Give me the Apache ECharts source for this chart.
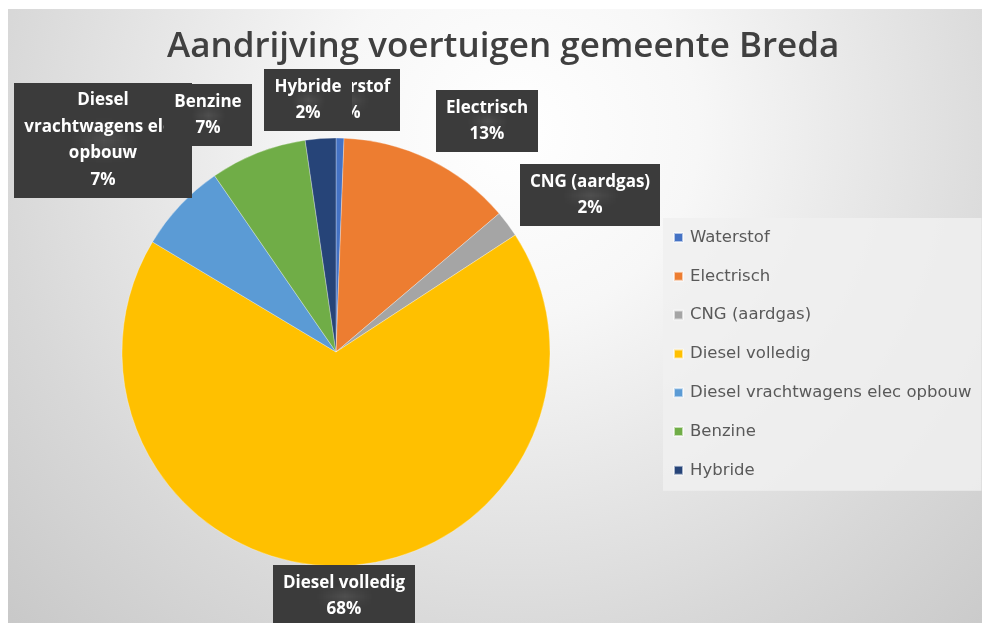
<!DOCTYPE html>
<html>
<head>
<meta charset="utf-8">
<script src="https://cdn.jsdelivr.net/npm/echarts@6/dist/echarts.min.js"></script>
<style>
  html, body { margin: 0; padding: 0; background: #fff; }
  #chart { width: 982px; height: 623px; }
</style>
</head>
<body>
<div id="chart"></div>
<script>
// categories + values (percent of vehicles)
const categories = ['Waterstof', 'Electrisch', 'CNG (aardgas)', 'Diesel volledig', 'Diesel vrachtwagens elec opbouw', 'Benzine', 'Hybride']
const values = [0.6, 13.2, 2.0, 67.8, 6.8, 7.3, 2.3]
const labelNames = ['Waterstof', 'Electrisch', 'CNG (aardgas)', 'Diesel volledig', 'Diesel\nvrachtwagens elec\nopbouw', 'Benzine', 'Hybride']
const colors = ['#4472C4', '#ED7D31', '#A5A5A5', '#FFC000', '#5B9BD5', '#70AD47', '#264478']

// where Excel dropped the data label boxes (centre of box)
const labelPos = [[348, 100], [487, 121], [590, 195], [344, 596], [103, 140], [208, 115], [308, 100]]

// dotted dark fill for the label boxes
const dots = document.createElement('canvas')
dots.width = 5
dots.height = 5
const dctx = dots.getContext('2d')
dctx.fillStyle = '#3b3b3b'
dctx.fillRect(0, 0, 5, 5)
dctx.fillStyle = '#4f4f4f'
dctx.fillRect(2, 2, 1, 1)

const chart = echarts.init(document.getElementById('chart'))

const option = {
  animation: false,
  backgroundColor: '#fff',
  color: colors,
  graphic: [{
    type: 'rect',
    z: -10,
    silent: true,
    shape: { x: 8, y: 9, width: 974, height: 614 },
    style: {
      fill: new echarts.graphic.RadialGradient(0.52, 0.2, 1.2, [
        { offset: 0, color: '#ffffff' },
        { offset: 0.25, color: '#f7f7f7' },
        { offset: 0.7, color: '#d8d8d8' },
        { offset: 1, color: '#c6c6c6' }
      ])
    }
  }],
  title: {
    text: 'Aandrijving voertuigen gemeente Breda',
    left: 162,
    top: 25,
    textStyle: {
      fontFamily: 'Open Sans',
      fontSize: 35,
      fontWeight: 600,
      color: '#404040'
    }
  },
  legend: {
    orient: 'vertical',
    left: 663,
    top: 218,
    padding: [11, 10, 12, 10],
    backgroundColor: 'rgba(240,240,240,0.85)',
    icon: 'rect',
    itemWidth: 9,
    itemHeight: 9,
    itemGap: 21.8,
    data: categories,
    textStyle: {
      fontFamily: 'DejaVu Sans',
      fontSize: 16.5,
      color: '#595959',
      padding: [0, 0, 0, 2]
    }
  },
  series: [
    {
      type: 'pie',
      center: [336, 352],
      radius: 214,
      startAngle: 90,
      clockwise: true,
      avoidLabelOverlap: false,
      emphasis: { disabled: true },
      itemStyle: {
        borderColor: 'rgba(255,255,255,0.6)',
        borderWidth: 0.5
      },
      label: {
        show: true,
        position: 'outside',
        formatter: function (p) {
          return labelNames[p.dataIndex] + '\n' + Math.round(p.percent) + '%'
        },
        fontFamily: 'Open Sans',
        fontSize: 17,
        fontWeight: 'bold',
        lineHeight: 26.5,
        color: '#ffffff',
        align: 'center',
        backgroundColor: { image: dots, repeat: 'repeat' },
        padding: [5, 10, 4, 10],
        shadowColor: 'rgba(0,0,0,0.45)',
        shadowBlur: 4,
        shadowOffsetX: 2,
        shadowOffsetY: 2
      },
      labelLine: { show: false },
      labelLayout: function (params) {
        const p = labelPos[params.dataIndex]
        return {
          x: p[0],
          y: p[1],
          align: 'center',
          verticalAlign: 'middle',
          hideOverlap: false
        }
      },
      data: categories.map((name, i) => ({ name: name, value: values[i] }))
    }
  ]
}

chart.setOption(option)
</script>
</body>
</html>
